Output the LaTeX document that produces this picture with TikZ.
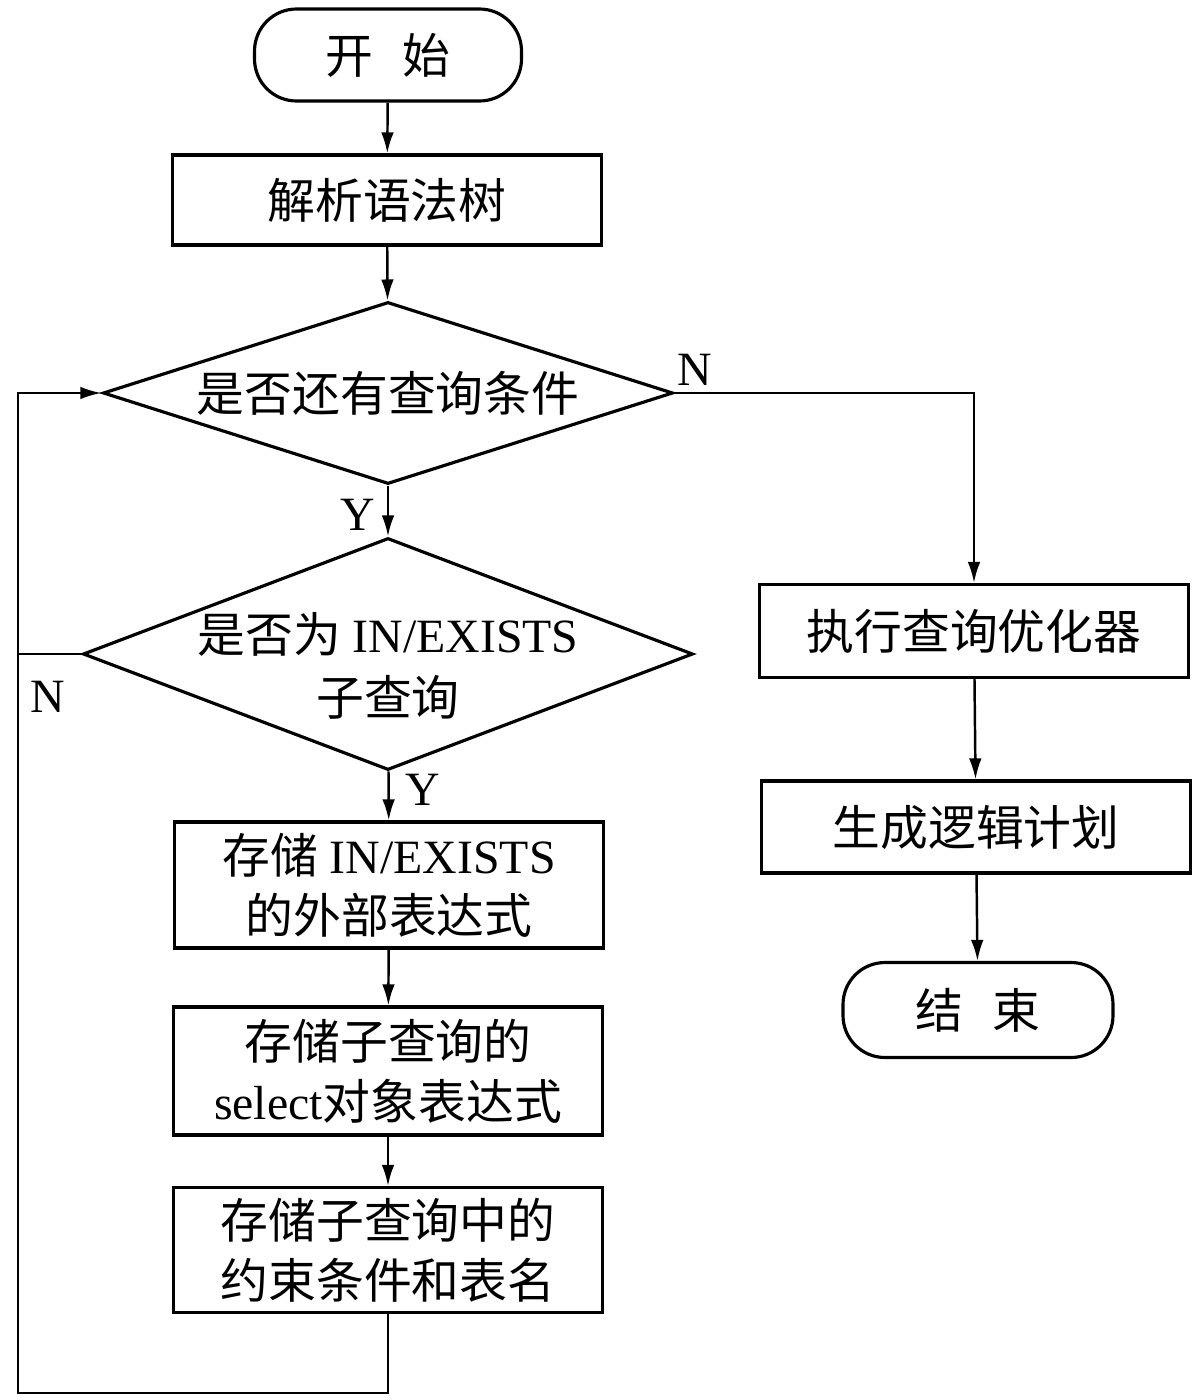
\documentclass[tikz,border=0pt]{standalone}
\usepackage{fontspec}
\setmainfont{Liberation Serif}
\newfontfamily\cjk{Noto Sans CJK SC}
\usetikzlibrary{positioning, shapes.geometric, arrows.meta}
\tikzset{>={Latex[length=6pt,width=3.6pt]}}

\begin{document}
\begin{tikzpicture}[font=\fontsize{13.6}{17}\selectfont,
  box/.style={draw, line width=0.9pt, minimum width=4.29cm, align=center, inner sep=2pt},
  term/.style={draw, line width=0.9pt, rounded corners=0.42cm, minimum width=2.67cm, minimum height=0.92cm},
  decision/.style={draw, diamond, line width=0.9pt, inner sep=0pt},
  flow/.style={->, line width=0.7pt}]
  \useasboundingbox (0,0) rectangle (12,-14);

  % Main column
  \node[term] (start) at (3.88,-0.55) {{\cjk 开\hspace{0.6em}始}};
  \node[box, minimum height=0.9cm] (parse) at (3.87,-2.0) {{\cjk 解析语法树}};
  \node[decision, aspect=3.13, minimum width=5.7cm, minimum height=1.82cm] (more) at (3.88,-3.93) {{\cjk 是否还有查询条件}};
  \node[decision, aspect=2.63, minimum width=6.1cm, minimum height=2.32cm,
        label={[align=center, name=isintext, yshift=-0.12cm]center:{\cjk 是否为} IN/EXISTS\\[1pt]{\cjk 子查询}}] (isin) at (3.88,-6.54) {};
  \node[box, minimum height=1.26cm] (keepouter) at (3.89,-8.85) {{\cjk 存储} IN/EXISTS\\{\cjk 的外部表达式}};
  \node[box, minimum height=1.28cm] (keepsel) at (3.88,-10.71) {{\cjk 存储子查询的}\\select{\cjk 对象表达式}};
  \node[box, minimum height=1.25cm] (keepcond) at (3.88,-12.5) {{\cjk 存储子查询中的}\\{\cjk 约束条件和表名}};

  % Right column
  \node[box, minimum height=0.93cm] (optimize) at (9.74,-6.31) {{\cjk 执行查询优化器}};
  \node[box, minimum height=0.92cm] (plan) at (9.76,-8.27) {{\cjk 生成逻辑计划}};
  \node[term, minimum width=2.7cm, minimum height=0.95cm] (finish) at (9.78,-10.1) {{\cjk 结\hspace{0.6em}束}};

  % Arrows
  \foreach \a/\b in {start/parse, parse/more, more/isin, isin/keepouter, keepouter/keepsel, keepsel/keepcond, optimize/plan, plan/finish}
    \draw[flow] (\a) -- (\b);
  \draw[flow] (more.east) -| (optimize);

  % Loop back
  \coordinate (loopleft) at (0.18,-13.93);
  \draw[flow] (keepcond) -- (keepcond |- loopleft) -- (loopleft) |- (more.west);
  \draw[line width=0.7pt] (isin.west) -- (isin.west -| loopleft);

  % Branch labels
  \node (nright) at (6.95,-3.70) {N};
  \node (yfirst) at (3.58,-5.15) {Y};
  \node (ysecond) at (4.23,-7.90) {Y};
  \node (nleft) at (0.48,-6.97) {N};
\end{tikzpicture}
\end{document}
